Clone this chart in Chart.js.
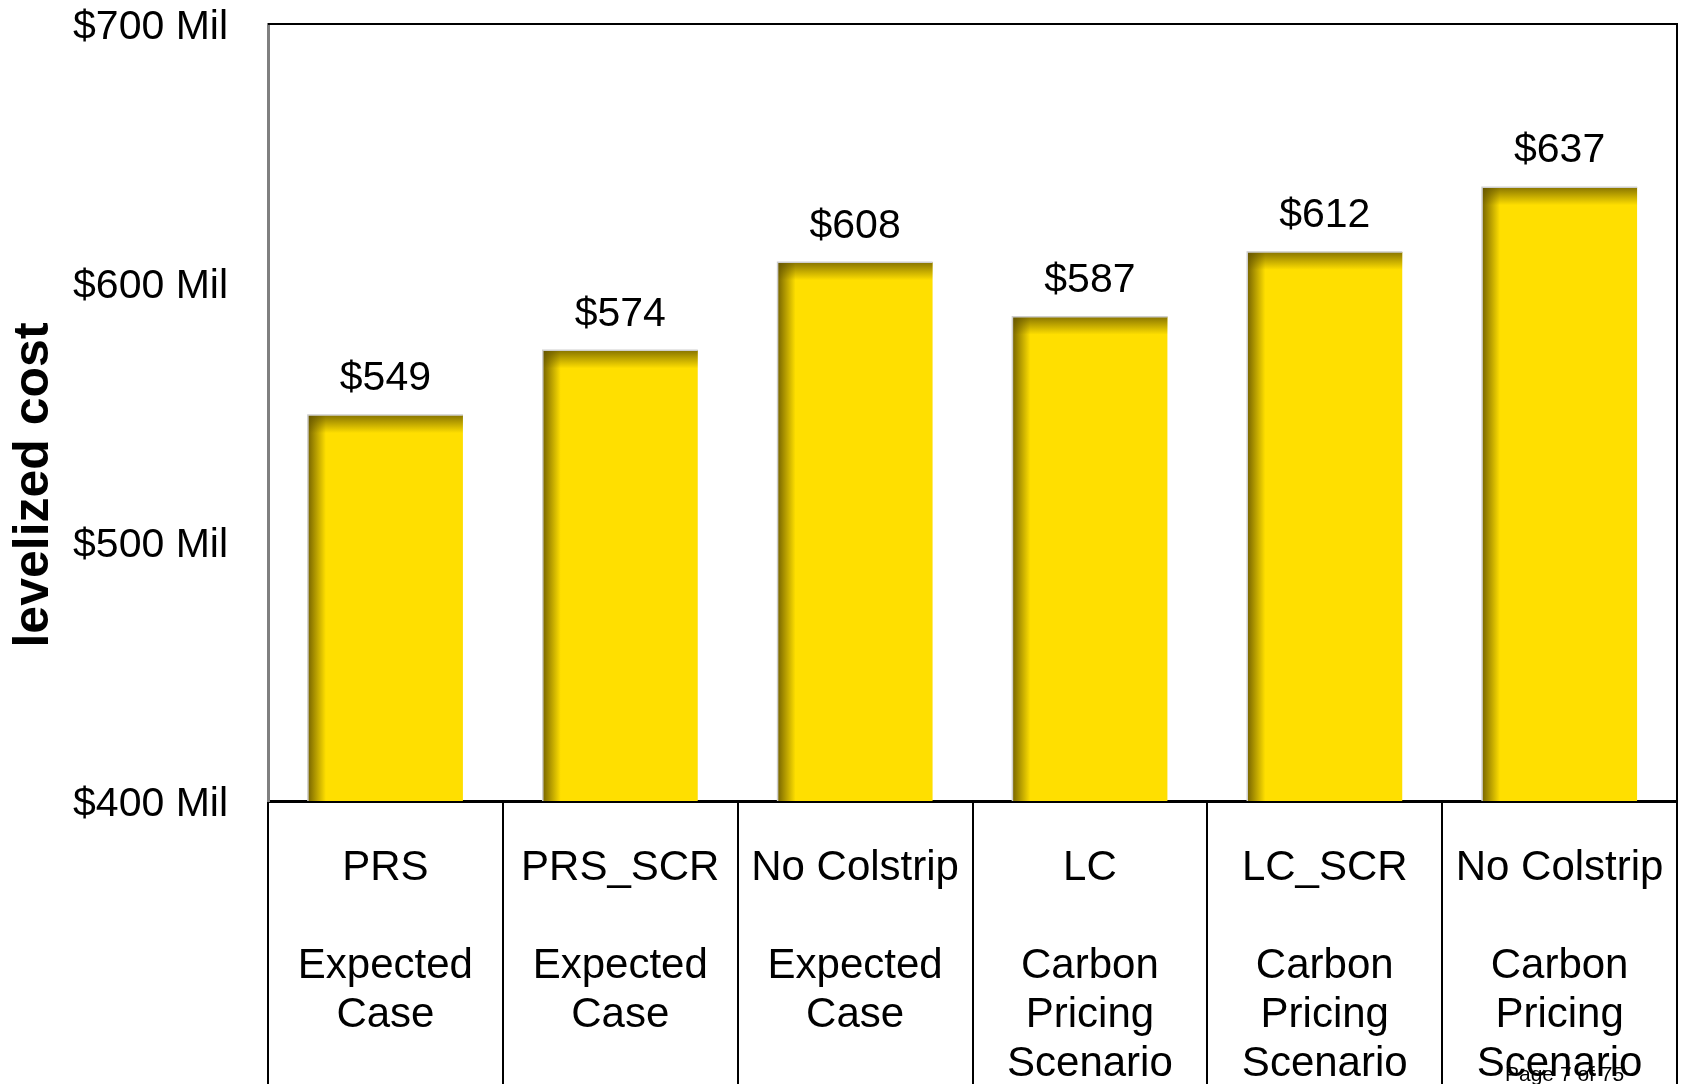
<!DOCTYPE html>
<html>
<head>
<meta charset="utf-8">
<title>levelized cost</title>
<script src="https://cdn.jsdelivr.net/npm/chart.js@4.4.1/dist/chart.umd.min.js"></script>
<style>
    body { margin: 0; background: #fff; }
    #wrap { position: relative; width: 1682px; height: 1084px; }
    #pageNote {
        position: absolute; left: 1505px; top: 1062px;
        font: 21px 'Liberation Sans', Arial, sans-serif; color: #000;
    }
</style>
</head>
<body>
<div id="wrap">
    <canvas id="costChart"></canvas>
    <div id="pageNote">Page 7 of 75</div>
</div>
<script>
const portfolios = ['PRS', 'PRS_SCR', 'No Colstrip', 'LC', 'LC_SCR', 'No Colstrip'];
const scenarios = [
    ['Expected', 'Case'],
    ['Expected', 'Case'],
    ['Expected', 'Case'],
    ['Carbon', 'Pricing', 'Scenario'],
    ['Carbon', 'Pricing', 'Scenario'],
    ['Carbon', 'Pricing', 'Scenario']
];
const costs = [549, 574, 608, 587, 612, 637];
const yTicks = [400, 500, 600, 700];
const yTitle = 'levelized cost';

const FONT = "'Liberation Sans', Arial, sans-serif";

// dark bevel on the left and top edges of each bar
const bevelPlugin = {
    id: 'bevel',
    afterDatasetsDraw(chart) {
        const ctx = chart.ctx;
        chart.getDatasetMeta(0).data.forEach(bar => {
            const { x, y, base, width } = bar.getProps(['x', 'y', 'base', 'width'], true);
            const left = x - width / 2;
            ctx.save();
            let g = ctx.createLinearGradient(left, 0, left + 18, 0);
            g.addColorStop(0, 'rgba(85,70,0,0.8)');
            g.addColorStop(1, 'rgba(85,70,0,0)');
            ctx.fillStyle = g;
            ctx.fillRect(left, y, 18, base - y);
            g = ctx.createLinearGradient(0, y, 0, y + 18);
            g.addColorStop(0, 'rgba(95,80,0,0.75)');
            g.addColorStop(1, 'rgba(95,80,0,0)');
            ctx.fillStyle = g;
            ctx.fillRect(left, y, width, 18);
            ctx.strokeStyle = '#cfcfcf';
            ctx.lineWidth = 1.5;
            ctx.beginPath();
            ctx.moveTo(left, base);
            ctx.lineTo(left, y);
            ctx.lineTo(left + width, y);
            ctx.stroke();
            ctx.restore();
        });
    }
};

const valueLabelPlugin = {
    id: 'valueLabels',
    afterDatasetsDraw(chart) {
        const ctx = chart.ctx;
        const ds = chart.data.datasets[0];
        ctx.save();
        ctx.font = '41px ' + FONT;
        ctx.fillStyle = '#000';
        ctx.textAlign = 'center';
        ctx.textBaseline = 'middle';
        chart.getDatasetMeta(0).data.forEach((bar, i) => {
            ctx.fillText('$' + ds.data[i], bar.x, bar.y - 36);
        });
        ctx.restore();
    }
};

// top and right frame of the plot, plus the rotated axis title
const framePlugin = {
    id: 'frame',
    afterDraw(chart) {
        const { ctx, chartArea: a } = chart;
        ctx.save();
        ctx.strokeStyle = '#000';
        ctx.lineWidth = 2;
        ctx.beginPath();
        ctx.moveTo(a.left, a.top);
        ctx.lineTo(a.right, a.top);
        ctx.lineTo(a.right, a.bottom);
        ctx.stroke();
        ctx.translate(34, 485);
        ctx.rotate(-Math.PI / 2);
        ctx.font = 'bold 50px ' + FONT;
        ctx.fillStyle = '#000';
        ctx.textAlign = 'center';
        ctx.textBaseline = 'middle';
        ctx.fillText(yTitle, 0, 0);
        ctx.restore();
    }
};

document.addEventListener('DOMContentLoaded', function () {
    const ctx = document.getElementById('costChart');
    new Chart(ctx, {
        type: 'bar',
        data: {
            labels: portfolios.map((p, i) => [p, ''].concat(scenarios[i])),
            datasets: [{
                data: costs,
                base: yTicks[0],
                backgroundColor: '#FFDF00',
                borderWidth: 0,
                categoryPercentage: 1,
                barPercentage: 0.66
            }]
        },
        options: {
            responsive: true,
            maintainAspectRatio: false,
            animation: false,
            layout: { padding: { top: 24, right: 5, left: 0, bottom: 0 } },
            plugins: {
                legend: { display: false },
                tooltip: { enabled: false }
            },
            scales: {
                x: {
                    grid: {
                        offset: true,
                        drawOnChartArea: false,
                        drawTicks: true,
                        tickLength: 283,
                        color: '#000',
                        lineWidth: 2
                    },
                    border: { display: true, color: '#000', width: 3 },
                    ticks: {
                        color: '#000',
                        font: { family: FONT, size: 42, lineHeight: 49 / 42 },
                        padding: -240.5,
                        maxRotation: 0,
                        autoSkip: false
                    },
                    afterFit(scale) { scale.height = 283; }
                },
                y: {
                    min: yTicks[0],
                    max: yTicks[yTicks.length - 1],
                    afterBuildTicks(scale) {
                        scale.ticks = yTicks.map(v => ({ value: v }));
                    },
                    grid: { display: false, drawTicks: false },
                    border: { display: true, color: '#808080', width: 3 },
                    ticks: {
                        color: '#000',
                        font: { family: FONT, size: 41 },
                        padding: 40,
                        labelOffset: 4,
                        callback: v => '$' + v + ' Mil'
                    },
                    afterFit(scale) {
                        scale.width = 268;
                        scale.paddingTop = 0;
                        scale.paddingBottom = 0;
                    }
                }
            }
        },
        plugins: [bevelPlugin, valueLabelPlugin, framePlugin]
    });
});
</script>
</body>
</html>
